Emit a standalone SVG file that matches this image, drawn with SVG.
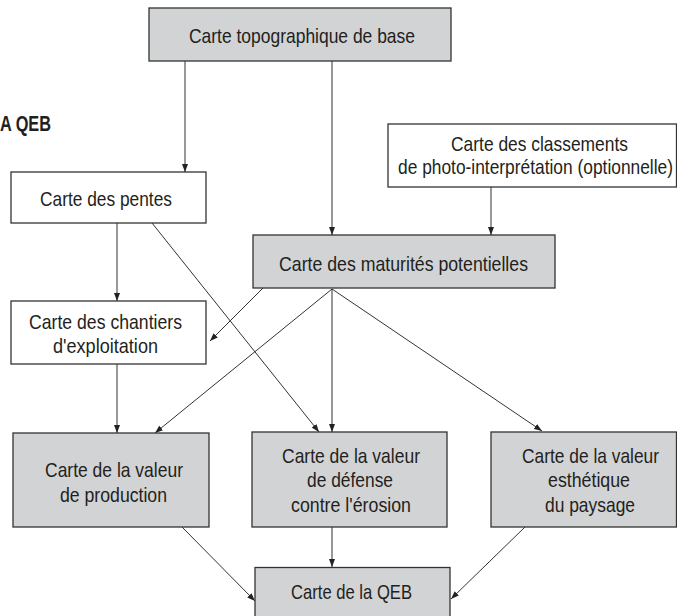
<svg xmlns="http://www.w3.org/2000/svg" width="677" height="616" viewBox="0 0 677 616">
<defs>
<style>
.box{stroke:#333;stroke-width:1.3}
.g{fill:#d2d3d5}
.w{fill:#fff}
.t{font-family:"Liberation Sans",Arial,sans-serif;font-size:21px;fill:#231f20;text-anchor:middle}
.title{font-family:"Liberation Sans",Arial,sans-serif;font-size:22px;font-weight:bold;fill:#231f20}
.c line{stroke:#333;stroke-width:1;fill:none;marker-end:url(#ah)}
</style>
<marker id="ah" viewBox="0 0 8 6" refX="8" refY="3" markerWidth="8" markerHeight="6" orient="auto" markerUnits="userSpaceOnUse">
<path d="M0,0 L8,3 L0,6 z" fill="#222"/>
</marker>
</defs>
<rect width="677" height="616" fill="#fff"/>
<text class="title" x="0" y="131" textLength="51" lengthAdjust="spacingAndGlyphs">A QEB</text>

<g class="c" id="connectors">
<line x1="185" y1="61" x2="185" y2="172"/>
<line x1="332" y1="61" x2="332" y2="235"/>
<line x1="491" y1="187" x2="491" y2="235"/>
<line x1="117" y1="223" x2="117" y2="301"/>
<line x1="152" y1="223" x2="319" y2="432"/>
<line x1="263" y1="288" x2="210" y2="341"/>
<line x1="332" y1="289" x2="155" y2="433"/>
<line x1="332" y1="289" x2="332" y2="432"/>
<line x1="332" y1="289" x2="542" y2="431"/>
<line x1="117" y1="364" x2="117" y2="433"/>
<line x1="182" y1="527" x2="255" y2="601"/>
<line x1="332" y1="527" x2="332" y2="567"/>
<line x1="525" y1="527" x2="451" y2="599"/>
</g>

<g id="n_topo">
<rect class="box g" x="149" y="8" width="302" height="53"/>
<text class="t" x="302" y="42.7" textLength="226" lengthAdjust="spacingAndGlyphs">Carte topographique de base</text>
</g>
<g id="n_pentes">
<rect class="box w" x="11" y="172" width="195" height="51"/>
<text class="t" x="106" y="206" textLength="132" lengthAdjust="spacingAndGlyphs">Carte des pentes</text>
</g>
<g id="n_classements">
<rect class="box w" x="388" y="124" width="288.5" height="63"/>
<text class="t" x="539.5" y="150.7" textLength="177" lengthAdjust="spacingAndGlyphs">Carte des classements</text>
<text class="t" x="535.5" y="173.5" textLength="275" lengthAdjust="spacingAndGlyphs">de photo-interprétation (optionnelle)</text>
</g>
<g id="n_maturites">
<rect class="box g" x="253" y="235" width="302" height="53"/>
<text class="t" x="403.5" y="271" textLength="249" lengthAdjust="spacingAndGlyphs">Carte des maturités potentielles</text>
</g>
<g id="n_chantiers">
<rect class="box w" x="11" y="301" width="195" height="63"/>
<text class="t" x="105.5" y="329.3" textLength="153" lengthAdjust="spacingAndGlyphs">Carte des chantiers</text>
<text class="t" x="105.5" y="352.7" textLength="105" lengthAdjust="spacingAndGlyphs">d'exploitation</text>
</g>
<g id="n_production">
<rect class="box g" x="13" y="433" width="196" height="94"/>
<text class="t" x="114" y="477.3" textLength="138" lengthAdjust="spacingAndGlyphs">Carte de la valeur</text>
<text class="t" x="113.5" y="501.7" textLength="107" lengthAdjust="spacingAndGlyphs">de production</text>
</g>
<g id="n_defense">
<rect class="box g" x="252" y="432" width="195" height="95"/>
<text class="t" x="351" y="462.7" textLength="138" lengthAdjust="spacingAndGlyphs">Carte de la valeur</text>
<text class="t" x="350" y="487.3" textLength="86" lengthAdjust="spacingAndGlyphs">de défense</text>
<text class="t" x="351" y="512" textLength="120" lengthAdjust="spacingAndGlyphs">contre l'érosion</text>
</g>
<g id="n_esthetique">
<rect class="box g" x="491" y="432" width="185.5" height="95"/>
<text class="t" x="590.5" y="462.7" textLength="137" lengthAdjust="spacingAndGlyphs">Carte de la valeur</text>
<text class="t" x="589" y="487.3" textLength="82" lengthAdjust="spacingAndGlyphs">esthétique</text>
<text class="t" x="590" y="512" textLength="90" lengthAdjust="spacingAndGlyphs">du paysage</text>
</g>
<g id="n_qeb">
<rect class="box g" x="255" y="567.5" width="195" height="60"/>
<text class="t" x="351.5" y="599.3" textLength="121" lengthAdjust="spacingAndGlyphs">Carte de la QEB</text>
</g>
</svg>
